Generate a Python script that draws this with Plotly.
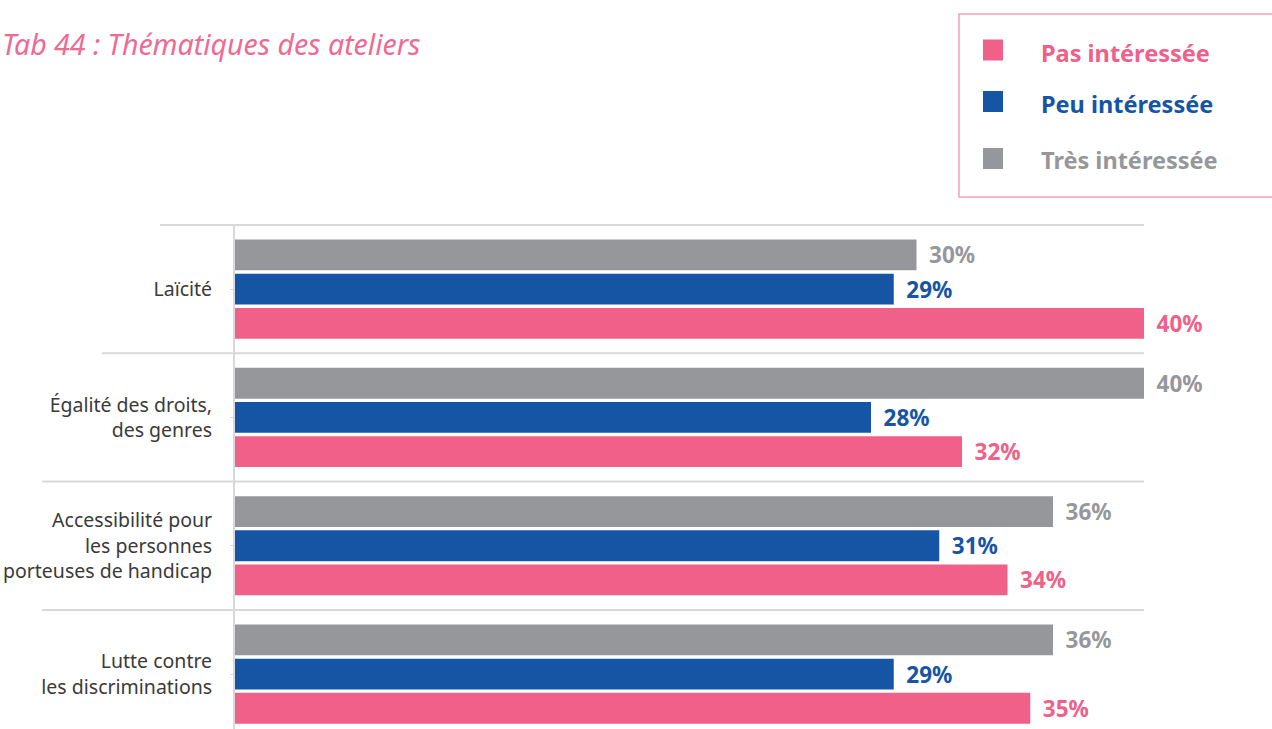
import plotly.graph_objects as go

# Survey data: interest in workshop themes (percent of respondents)
categories = [
    "Laïcité",
    "Égalité des droits,<br>des genres",
    "Accessibilité pour<br>les personnes<br>porteuses de handicap",
    "Lutte contre<br>les discriminations",
]
series_names = ["Pas intéressée", "Peu intéressée", "Très intéressée"]
pas_interessee = [40, 32, 34, 35]
peu_interessee = [29, 28, 31, 29]
tres_interessee = [30, 40, 36, 36]

colors = {
    "Pas intéressée": "#f06088",
    "Peu intéressée": "#1654a4",
    "Très intéressée": "#96979b",
}
values = {
    "Pas intéressée": pas_interessee,
    "Peu intéressée": peu_interessee,
    "Très intéressée": tres_interessee,
}

W, H = 1272, 729
ML, MR, MT, MB = 234, 128, 220, 0
PW, PH = W - ML - MR, H - MT - MB
FONT = "Noto Sans, Open Sans, sans-serif"
CAT_PX = 128.3


def px_x(px):
    return (px - ML) / PW


def px_y(py):
    return (H - MB - py) / PH


fig = go.Figure()

# Top-to-bottom order inside each group: Très, Peu, Pas
for name in ["Très intéressée", "Peu intéressée", "Pas intéressée"]:
    vals = values[name]
    fig.add_trace(go.Bar(
        name=name,
        y=categories,
        x=vals,
        orientation="h",
        marker=dict(color=colors[name], line=dict(width=0)),
        text=[f"\u00a0\u2009{v}%" for v in vals],
        textposition="outside",
        textfont=dict(family=FONT, size=22.5, color=colors[name], weight=700),
        constraintext="none",
        cliponaxis=False,
        hoverinfo="skip",
    ))

shapes = []
# Category separators, each extending left under its label
sep_left = [160, 102, 42, 42]
for i, left in enumerate(sep_left):
    shapes.append(dict(
        type="line", xref="paper", yref="y",
        x0=px_x(left), x1=1, y0=i - 0.5, y1=i - 0.5,
        line=dict(color="#d9d9d9", width=2),
    ))
# Vertical baseline
shapes.append(dict(
    type="line", xref="paper", yref="y",
    x0=0, x1=0, y0=-0.5, y1=len(categories),
    line=dict(color="#d9d9d9", width=2),
))

# Legend box
shapes.append(dict(
    type="rect", xref="paper", yref="paper",
    x0=px_x(959), x1=px_x(1280), y0=px_y(197), y1=px_y(14),
    line=dict(color="#f3a0b9", width=1.5), fillcolor="rgba(0,0,0,0)",
))
annotations = []
legend_rows = [("Pas intéressée", 50, 53), ("Peu intéressée", 101.5, 104), ("Très intéressée", 158.5, 160)]
for name, sq_c, txt_c in legend_rows:
    shapes.append(dict(
        type="rect", xref="paper", yref="paper",
        x0=px_x(983), x1=px_x(1003), y0=px_y(sq_c + 10.5), y1=px_y(sq_c - 10.5),
        line=dict(width=0), fillcolor=colors[name],
    ))
    annotations.append(dict(
        xref="paper", yref="paper", x=px_x(1039), y=px_y(txt_c),
        xanchor="left", yanchor="middle", showarrow=False,
        text=name,
        font=dict(family=FONT, size=23.5, color=colors[name], weight=700),
    ))

top_pad = (225 - MT) / CAT_PX
span = PH / CAT_PX
fig.update_layout(
    width=W, height=H,
    margin=dict(l=ML, r=MR, t=MT, b=MB, pad=0),
    paper_bgcolor="white", plot_bgcolor="white",
    barmode="group", bargap=0.2, bargroupgap=0.1,
    showlegend=False,
    title=dict(
        text="Tab 44 : Thématiques des ateliers",
        xref="container", yref="container",
        x=2 / W, y=1 - 45 / H, xanchor="left", yanchor="middle",
        font=dict(family=FONT, size=28.5, color="#ef6a93", style="italic"),
    ),
    xaxis=dict(range=[0, 40], visible=False, fixedrange=True),
    yaxis=dict(
        type="category",
        range=[-0.5 - top_pad + span, -0.5 - top_pad],
        showgrid=False, zeroline=False, showline=False,
        ticks="outside", ticklen=3, tickcolor="#d9d9d9", tickwidth=1,
        ticklabelstandoff=14,
        tickfont=dict(family=FONT, size=19.5, color="#3a3a3a"),
        fixedrange=True,
    ),
    shapes=shapes,
    annotations=annotations,
)

fig.write_html("out.html")
